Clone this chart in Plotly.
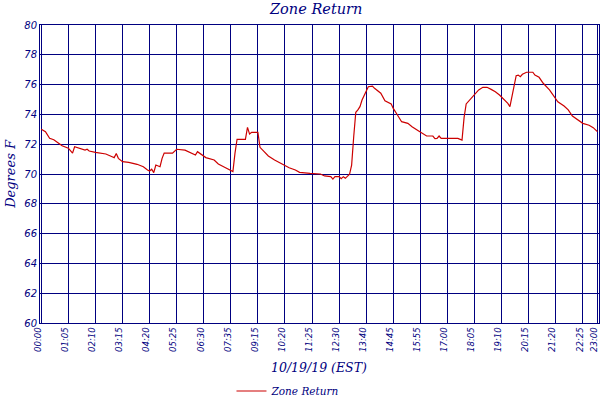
import plotly.graph_objects as go

# sample index (5-minute steps on the category axis) and temperature readings
sample_idx = [0, 2, 4, 6, 8, 10, 13, 15, 16, 18, 21, 22, 23, 26, 28, 31, 34, 35, 36, 37,
              39, 42, 46, 49, 51, 52, 53, 54, 55, 57, 58, 59, 63, 65, 69, 71, 74, 75, 77, 79,
              83, 85, 88, 91, 92, 93, 94, 98, 99, 100, 101, 104, 105, 107, 109, 112, 116, 119, 122, 124,
              129, 134, 136, 139, 140, 141, 143, 144, 145, 146, 148, 149, 150, 151, 152, 153, 154, 156, 157, 159,
              160, 163, 165, 168, 169, 171, 173, 176, 178, 181, 183, 185, 188, 189, 190, 191, 192, 200, 202, 203,
              204, 206, 208, 210, 212, 214, 216, 218, 220, 222, 224, 225, 226, 227, 228, 229, 230, 231, 232, 233,
              236, 237, 239, 241, 244, 246, 248, 251, 253, 255, 257, 260, 263, 265, 267]
zone_return = [73.0, 72.84, 72.4, 72.3, 72.1, 71.9, 71.73, 71.4, 71.83, 71.73, 71.6, 71.66, 71.54, 71.45, 71.4, 71.34, 71.16, 71.1, 71.37, 71.05,
               70.83, 70.78, 70.65, 70.49, 70.27, 70.2, 70.32, 70.09, 70.6, 70.49, 71.05, 71.4, 71.4, 71.66, 71.6, 71.45, 71.27, 71.5, 71.27, 71.1,
               70.94, 70.67, 70.45, 70.27, 70.16, 71.4, 72.33, 72.33, 73.13, 72.68, 72.8, 72.8, 71.79, 71.5, 71.21, 70.94, 70.65, 70.42, 70.27, 70.11,
               70.04, 70.0, 69.87, 69.82, 69.66, 69.82, 69.82, 69.69, 69.82, 69.71, 69.98, 70.6, 72.5, 74.14, 74.3, 74.52, 74.97, 75.64, 75.86, 75.9,
               75.75, 75.42, 74.92, 74.7, 74.4, 73.96, 73.51, 73.4, 73.17, 72.9, 72.73, 72.55, 72.55, 72.37, 72.39, 72.55, 72.39, 72.39, 72.28, 73.8,
               74.7, 75.0, 75.3, 75.64, 75.82, 75.82, 75.68, 75.52, 75.3, 75.01, 74.74, 74.52, 75.2, 76.0, 76.6, 76.64, 76.53, 76.69, 76.76, 76.83,
               76.83, 76.64, 76.49, 76.09, 75.64, 75.23, 74.85, 74.56, 74.3, 73.89, 73.67, 73.4, 73.27, 73.11, 72.84]

tick_idx = [0, 13, 26, 39, 52, 65, 78, 91, 104, 117, 130, 143, 156, 169, 182, 195, 208, 221, 234, 247, 260, 267]
tick_labels = ["00:00", "01:05", "02:10", "03:15", "04:20", "05:25", "06:30", "07:35", "09:15", "10:20", "11:25",
               "12:30", "13:40", "14:45", "15:55", "17:00", "18:05", "19:10", "20:15", "21:20", "22:25", "23:00"]
y_ticks = [60, 62, 64, 66, 68, 70, 72, 74, 76, 78, 80]

NAVY = "#000080"

fig = go.Figure()
fig.add_trace(go.Scatter(x=sample_idx, y=zone_return, mode="lines", name="Zone Return",
                         line=dict(color="#cc0000", width=1.2)))

fig.update_layout(
    width=600, height=400,
    paper_bgcolor="white", plot_bgcolor="white",
    margin=dict(l=40, r=1, t=25, b=77),
    title=dict(text="Zone Return", x=0.527, xanchor="center", y=0.99, yanchor="top",
               font=dict(family="DejaVu Serif", size=14.5, color=NAVY, style="italic")),
    showlegend=True,
    legend=dict(orientation="h", x=0.4445, xanchor="center", yref="container", y=0.0225, yanchor="middle",
                font=dict(family="DejaVu Serif", size=10.5, color=NAVY, style="italic"),
                itemwidth=30, bgcolor="rgba(0,0,0,0)"),
    font=dict(family="DejaVu Sans", color=NAVY),
)

fig.update_xaxes(range=[-0.62, 267.77], tickmode="array", tickvals=tick_idx, ticktext=tick_labels,
                 tickangle=-90, tickfont=dict(family="DejaVu Sans", size=8.5, color=NAVY, style="italic"),
                 ticklabeloverflow="allow", ticklabelshift=-3, automargin=False,
                 showgrid=True, gridcolor=NAVY, gridwidth=1, zeroline=False,
                 showline=True, linecolor=NAVY, linewidth=1, mirror=True, ticks="")
fig.update_yaxes(range=[60, 80], tickmode="array", tickvals=y_ticks,
                 tickfont=dict(family="DejaVu Sans", size=10, color=NAVY, style="italic"),
                 automargin=False,
                 showgrid=True, gridcolor=NAVY, gridwidth=1, zeroline=False,
                 showline=True, linecolor=NAVY, linewidth=1, mirror=True, ticks="")

fig.add_annotation(text="Degrees F", xref="paper", yref="paper", x=-0.054, y=0.5, textangle=-90,
                   showarrow=False, xanchor="center", yanchor="middle",
                   font=dict(family="DejaVu Serif", size=13, color=NAVY, style="italic"))
fig.add_annotation(text="10/19/19 (EST)", xref="paper", yref="paper", x=0.499, y=-0.151,
                   showarrow=False, xanchor="center", yanchor="middle",
                   font=dict(family="DejaVu Serif", size=12.5, color=NAVY, style="italic"))

fig.write_html("out.html", config={"displayModeBar": False},
               post_script="document.body.style.margin='0';")
